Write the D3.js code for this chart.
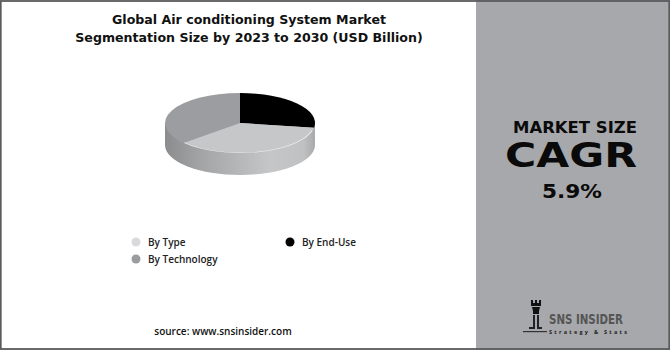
<!DOCTYPE html>
<html>
<head>
<meta charset="utf-8">
<script src="https://cdn.jsdelivr.net/npm/d3@7"></script>
<style>
  body { margin: 0; background: #fff; }
  svg { display: block; }
</style>
</head>
<body>
<script>
// Segment values (share of the market)
let categories = ["By Type", "By End-Use", "By Technology"];
let shares = [36, 27.5, 36.5];
// order in which the slices are laid out, clockwise from 12 o'clock
let pieOrder = ["By End-Use", "By Type", "By Technology"];
let legendColors = ["#d9dadc", "#000000", "#9b9c9e"];
let topColors = ["#c6c7c9", "#000000", "#9c9da0"];
let cagr = "5.9%";

let W = 670, H = 350;
let svg = d3.select("body").append("svg")
  .attr("width", W).attr("height", H)
  .style("font-family", "'Open Sans', sans-serif");

let defs = svg.append("defs");
let grad = defs.append("linearGradient").attr("id", "side")
  .attr("x1", "0%").attr("x2", "100%").attr("y1", "0%").attr("y2", "0%");
grad.append("stop").attr("offset", "0%").attr("stop-color", "#8b8c8e");
grad.append("stop").attr("offset", "25%").attr("stop-color", "#a4a5a7");
grad.append("stop").attr("offset", "70%").attr("stop-color", "#c5c6c8");
grad.append("stop").attr("offset", "92%").attr("stop-color", "#c0c1c3");
grad.append("stop").attr("offset", "100%").attr("stop-color", "#a9aaac");

// right panel
svg.append("rect").attr("x", 476).attr("y", 0).attr("width", W - 476).attr("height", H)
  .attr("fill", "#a7a8ab");

// outer frame
svg.append("rect").attr("x", 0.75).attr("y", 1).attr("width", W - 1.5).attr("height", H - 2)
  .attr("fill", "none").attr("stroke", "#5a5a5c").attr("stroke-width", 1.8);

// Title
let titleLines = ["Global Air conditioning System Market",
                  "Segmentation Size by 2023 to 2030 (USD Billion)"];
svg.selectAll("text.title")
  .data(titleLines).enter()
  .append("text").attr("class", "title")
  .attr("x", 249).attr("y", (d, i) => 24 + i * 18)
  .attr("text-anchor", "middle")
  .style("font-family", "'DejaVu Sans', sans-serif")
  .style("font-size", "12.6px").style("font-weight", "bold").attr("fill", "#111")
  .text((d) => d);

// 3D pie
let cx = 240, cy = 123, rx = 75, ry = 30, depth = 22;
let color = d3.scaleOrdinal().domain(categories).range(topColors);
let valueOf = {};
categories.forEach((c, i) => { valueOf[c] = shares[i]; });

let pie = d3.pie().sort(null).value((d) => valueOf[d]);
let arcs = pie(pieOrder);
let arc = d3.arc().innerRadius(0).outerRadius(rx);

// side wall
svg.append("ellipse")
  .attr("cx", cx).attr("cy", cy + depth).attr("rx", rx).attr("ry", ry)
  .attr("fill", "url(#side)");
svg.append("rect")
  .attr("x", cx - rx).attr("y", cy).attr("width", 2 * rx).attr("height", depth)
  .attr("fill", "url(#side)");

// top face
let topFace = svg.append("g")
  .attr("transform", "translate(" + cx + "," + cy + ") scale(1," + (ry / rx) + ")");
topFace.selectAll("path")
  .data(arcs).enter()
  .append("path")
    .attr("d", arc)
    .attr("fill", (d) => color(d.data));

// light rim along the front edge
let rim = d3.arc().innerRadius(rx - 1).outerRadius(rx)
  .startAngle(Math.PI * 0.58).endAngle(Math.PI * 1.27);
topFace.append("path").attr("d", rim()).attr("fill", "#f0f0f1");

// Legend
let legendPos = [[136, 242], [290, 242], [136, 259]];
let legend = svg.selectAll("g.legend")
  .data(categories).enter()
  .append("g").attr("class", "legend")
  .attr("transform", (d, i) => "translate(" + legendPos[i][0] + "," + legendPos[i][1] + ")");
legend.append("circle").attr("r", 4.5).attr("fill", (d, i) => legendColors[i]);
legend.append("text")
  .attr("x", 12).attr("y", 3.6)
  .style("font-size", "10px").style("font-weight", "600").attr("fill", "#222")
  .text((d) => d);

// Source
svg.append("text")
  .attr("x", 223).attr("y", 335)
  .attr("text-anchor", "middle")
  .style("font-size", "10px").style("font-weight", "600").attr("fill", "#111")
  .text("source: www.snsinsider.com");

// Right panel texts
let panelFont = "'DejaVu Sans', sans-serif";
svg.append("text")
  .attr("x", 575).attr("y", 133).attr("text-anchor", "middle")
  .style("font-family", panelFont)
  .style("font-size", "15px").style("font-weight", "bold").attr("fill", "#0a0a0a")
  .attr("textLength", 124).attr("lengthAdjust", "spacingAndGlyphs")
  .text("MARKET SIZE");
svg.append("text")
  .attr("x", 571).attr("y", 167).attr("text-anchor", "middle")
  .style("font-family", panelFont)
  .style("font-size", "34px").style("font-weight", "bold").attr("fill", "#0a0a0a")
  .attr("textLength", 132).attr("lengthAdjust", "spacingAndGlyphs")
  .text("CAGR");
svg.append("text")
  .attr("x", 572).attr("y", 198).attr("text-anchor", "middle")
  .style("font-family", panelFont)
  .style("font-size", "20px").style("font-weight", "bold").attr("fill", "#0a0a0a")
  .attr("textLength", 60).attr("lengthAdjust", "spacingAndGlyphs")
  .text(cagr);

// Logo
let logo = svg.append("g").attr("transform", "translate(523,300)");
logo.append("path")
  .attr("d", "M8,0 L10,0 L10,3 L12,3 L12,0 L14,0 L14,3 L16,3 L16,0 L18,0 L18,6 L8,6 Z")
  .attr("fill", "#111");
logo.append("path")
  .attr("d", "M9,7 L17,7 L16,11 L16,14 L10,14 L10,11 Z")
  .attr("fill", "#111");
logo.append("path")
  .attr("d", "M10,15 L12,15 L12,29 L6,29 L6,27 L10,27 Z M14,15 L16,15 L16,27 L19,27 L19,29 L14,29 Z")
  .attr("fill", "#222");
logo.append("rect").attr("x", 0).attr("y", 31).attr("width", 24).attr("height", 1.2).attr("fill", "#333");
svg.append("text")
  .attr("x", 549).attr("y", 324)
  .style("font-family", "'DejaVu Sans Condensed', 'Liberation Sans Narrow', sans-serif")
  .style("font-size", "14px").style("font-weight", "bold").attr("fill", "#555")
  .attr("textLength", 74).attr("lengthAdjust", "spacingAndGlyphs")
  .text("SNS INSIDER");
svg.append("text")
  .attr("x", 549).attr("y", 334)
  .style("font-size", "5.5px").style("font-weight", "bold")
  .attr("fill", "#222")
  .attr("textLength", 78).attr("lengthAdjust", "spacing")
  .text("Strategy & Stats");
</script>
</body>
</html>
